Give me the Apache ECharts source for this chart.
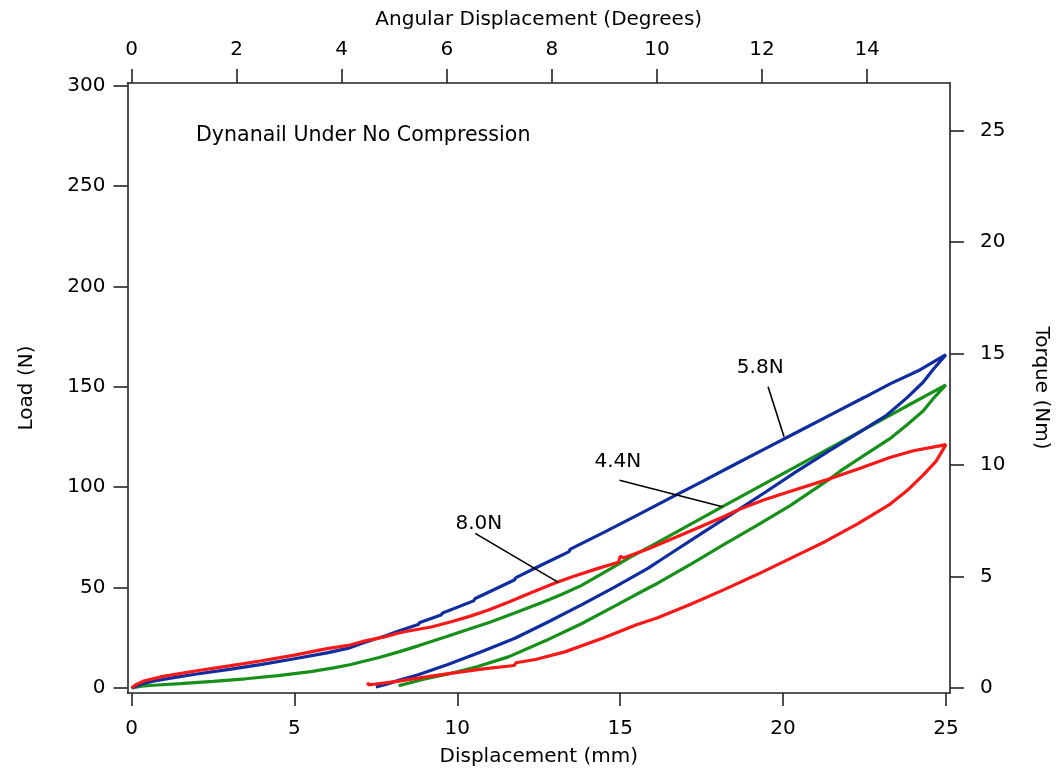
<!DOCTYPE html>
<html><head><meta charset="utf-8">
<script src="https://cdn.jsdelivr.net/npm/echarts@6/dist/echarts.min.js"></script>
<style>html,body{margin:0;padding:0;background:#fff}#c{width:1059px;height:772px}</style>
</head><body><div id="c"></div>
<script>
// ---- tick labels ----
const dispTicks = [0, 5, 10, 15, 20, 25];
const loadTicks = [0, 50, 100, 150, 200, 250, 300];
const torqueTicks = [0, 5, 10, 15, 20, 25];
const angleTicks = [0, 2, 4, 6, 8, 10, 12, 14];

// ---- series: [displacement mm, load N] (loading then unloading) ----
const curve58 = [
  [0,0],[0.3,2],[0.7,3.5],[1.2,4.9],[2,7],[3,9.3],[4,11.8],[5,14.6],[6,17.5],[6.7,20],[7.1,22.4],
  [7.8,26],[8.2,28.4],[8.8,31.6],[8.85,32.6],[9.5,36.4],[9.55,37.4],[10.5,43.4],[10.55,44.6],
  [11.2,49.6],[11.75,53.8],[11.8,55],[12.6,61.4],[13.42,67.8],[13.47,69.2],[14.5,77.5],[15.5,85.9],
  [16.5,94.3],[17.5,102.7],[18.5,111.2],[19.5,119.6],[20.5,128],[21.5,136.4],[22.5,144.8],
  [23.3,151.6],[24.2,158.4],[25,166],
  [24.6,158.5],[24.3,152.3],[23.8,144.5],[23.15,135.5],[22.3,127],[21.45,118.5],[20.43,108],
  [19.5,98],[18.6,88.5],[17.5,77],[16.36,65],[15.85,59.6],[14.8,50],[13.81,41.4],[12.8,33],
  [11.77,24.8],[10.7,17.8],[9.73,11.8],[8.8,6.6],[8.2,3.8],[7.8,1.8],[7.5,0.5]
];
const curve44 = [
  [0,0],[0.3,0.9],[0.8,1.5],[1.5,2.2],[2.5,3.3],[3.5,4.6],[4.5,6.2],[5.5,8.2],[6.2,10],[6.7,11.6],
  [7.1,13.2],[7.6,15.2],[8.2,18],[8.8,21],[9.7,25.8],[10.3,29],[11,32.8],[11.8,37.6],[12.6,42.6],
  [13.2,46.6],[13.8,51],[14.5,57.5],[15.34,65.4],[16,71.2],[17,80.1],[18.14,90.3],[19,97.9],
  [20,106.8],[21,115.6],[22,124.5],[23,133.3],[24,142.2],[25,151],
  [24.6,144],[24.3,138],[23.8,131],[23.28,124.2],[22.5,116],[21.75,108],[21.45,104.3],[20.23,91],
  [19.2,81],[18.19,71.5],[17.2,62],[16.15,52.2],[15.85,49.7],[14.8,40.5],[13.81,32],[12.7,23.5],
  [11.57,15.5],[10.6,10.6],[9.73,7],[9,4.5],[8.5,2.4],[8.2,1.2]
];
const curve80 = [
  [0,0],[0.15,1.8],[0.4,3.6],[0.97,5.8],[2,8.6],[3,11],[4,13.6],[5,16.4],[6,19.6],[6.7,21.4],
  [7.1,23.2],[7.8,25.6],[8.2,27.4],[8.5,28.4],[9.2,30.4],[9.84,33.1],[10.4,35.8],[10.96,38.9],
  [11.6,43],[12.28,47.6],[13.04,52.6],[13.6,55.8],[14.32,59.6],[14.95,62.6],[15.0,65.6],[15.1,64.8],
  [15.85,69.2],[16.76,75.5],[17.5,80.6],[18.19,85.4],[18.6,88.6],[19.4,93.6],[20.23,98],
  [21.45,104.3],[22.26,108.8],[23.28,114.8],[24,118.2],[24.6,120],[25,121.2],
  [24.7,113],[24.3,106],[23.8,98.2],[23.28,91.5],[22.26,81.5],[21.3,73],[20.23,64.6],[19.2,56.5],
  [18.19,49],[17.2,42],[16.15,35],[15.5,31.5],[14.5,25],[13.3,18],[12.4,14.2],[11.8,12.6],
  [11.75,11.2],[10.8,9.5],[9.73,7.2],[9,5.4],[8.2,3.4],[7.5,2],[7.27,1.6],[7.25,2.8]
];

// ---- annotations (data coordinates) ----
const annoLabels = ['5.8N', '4.4N', '8.0N'];
const annoTextPos = [[19.3, 159.4], [14.93, 112.7], [10.66, 81.6]];
const annoLineStart = [[19.54, 150], [14.98, 103.5], [10.55, 77.0]];
const annoLineEnd = [[20.03, 125.2], [18.14, 90.3], [13.1, 52.6]];
const noteText = 'Dynanail Under No Compression';

const FONT = 'DejaVu Sans';
const AX = '#222';
const TXT = '#000';
const TORQUE_PER_N = 0.09;   // Nm per N
const DEG_PER_MM = 0.62;

const xMin = -0.125, xMax = 25.125, yMin = -2.482, yMax = 301.34;

function axisBase(ticks, margin, len) {
  return {
    axisLine: {show: true, onZero: false, lineStyle: {color: AX, width: 1.6}},
    axisTick: {show: true, inside: false, length: len, customValues: ticks, lineStyle: {color: AX, width: 1.6}},
    axisLabel: {show: true, customValues: ticks, margin: margin, fontSize: 20, fontFamily: FONT, color: TXT},
    splitLine: {show: false},
    nameTextStyle: {fontSize: 20, fontFamily: FONT, color: TXT},
    nameLocation: 'middle'
  };
}

function mk(idx) {
  return {
    silent: true, animation: false,
    markLine: {
      silent: true, animation: false, symbol: ['none', 'none'],
      lineStyle: {color: '#000', width: 1.6, type: 'solid'},
      label: {show: false},
      data: [[{coord: annoLineStart[idx]}, {coord: annoLineEnd[idx]}]]
    },
    markPoint: {
      silent: true, animation: false, symbol: 'circle', symbolSize: 0,
      label: {show: true, position: 'inside', formatter: annoLabels[idx], fontSize: 20, fontFamily: FONT, color: TXT},
      data: [{coord: annoTextPos[idx]}]
    }
  };
}

const chart = echarts.init(document.getElementById('c'), null, {renderer: 'canvas'});
chart.setOption({
  animation: false,
  backgroundColor: '#fff',
  grid: {left: 127.5, top: 83, width: 826.2, height: 612, containLabel: false},
  xAxis: [
    Object.assign(axisBase(dispTicks, 26, 13), {
      type: 'value', position: 'bottom', min: xMin, max: xMax,
      name: 'Displacement (mm)', nameGap: 54
    }),
    Object.assign(axisBase(angleTicks, 23, 14), {
      type: 'value', position: 'top', min: xMin * DEG_PER_MM, max: xMax * DEG_PER_MM,
      name: 'Angular Displacement (Degrees)', nameGap: 53
    })
  ],
  yAxis: [
    Object.assign(axisBase(loadTicks, 22, 14), {
      type: 'value', position: 'left', min: yMin, max: yMax,
      name: 'Load (N)', nameGap: 91, nameRotate: 90
    }),
    Object.assign(axisBase(torqueTicks, 30, 14), {
      type: 'value', position: 'right', min: yMin * TORQUE_PER_N, max: yMax * TORQUE_PER_N,
      name: 'Torque (Nm)', nameGap: 81, nameRotate: -90
    })
  ],
  graphic: [{
    type: 'text', left: 196, top: 125, silent: true,
    style: {text: noteText, font: '20.6px "DejaVu Sans"', fill: TXT}
  }],
  series: [
    Object.assign({type: 'line', name: '4.4N', data: curve44, xAxisIndex: 0, yAxisIndex: 0,
      showSymbol: false, symbol: 'none', lineStyle: {color: '#17901a', width: 3.2}, itemStyle: {color: '#17901a'}}, mk(1)),
    Object.assign({type: 'line', name: '5.8N', data: curve58, xAxisIndex: 0, yAxisIndex: 0,
      showSymbol: false, symbol: 'none', lineStyle: {color: '#0f2d9e', width: 3.2}, itemStyle: {color: '#0f2d9e'}}, mk(0)),
    Object.assign({type: 'line', name: '8.0N', data: curve80, xAxisIndex: 0, yAxisIndex: 0,
      showSymbol: false, symbol: 'none', lineStyle: {color: '#f81818', width: 3.2}, itemStyle: {color: '#f81818'}}, mk(2))
  ]
});
</script></body></html>
